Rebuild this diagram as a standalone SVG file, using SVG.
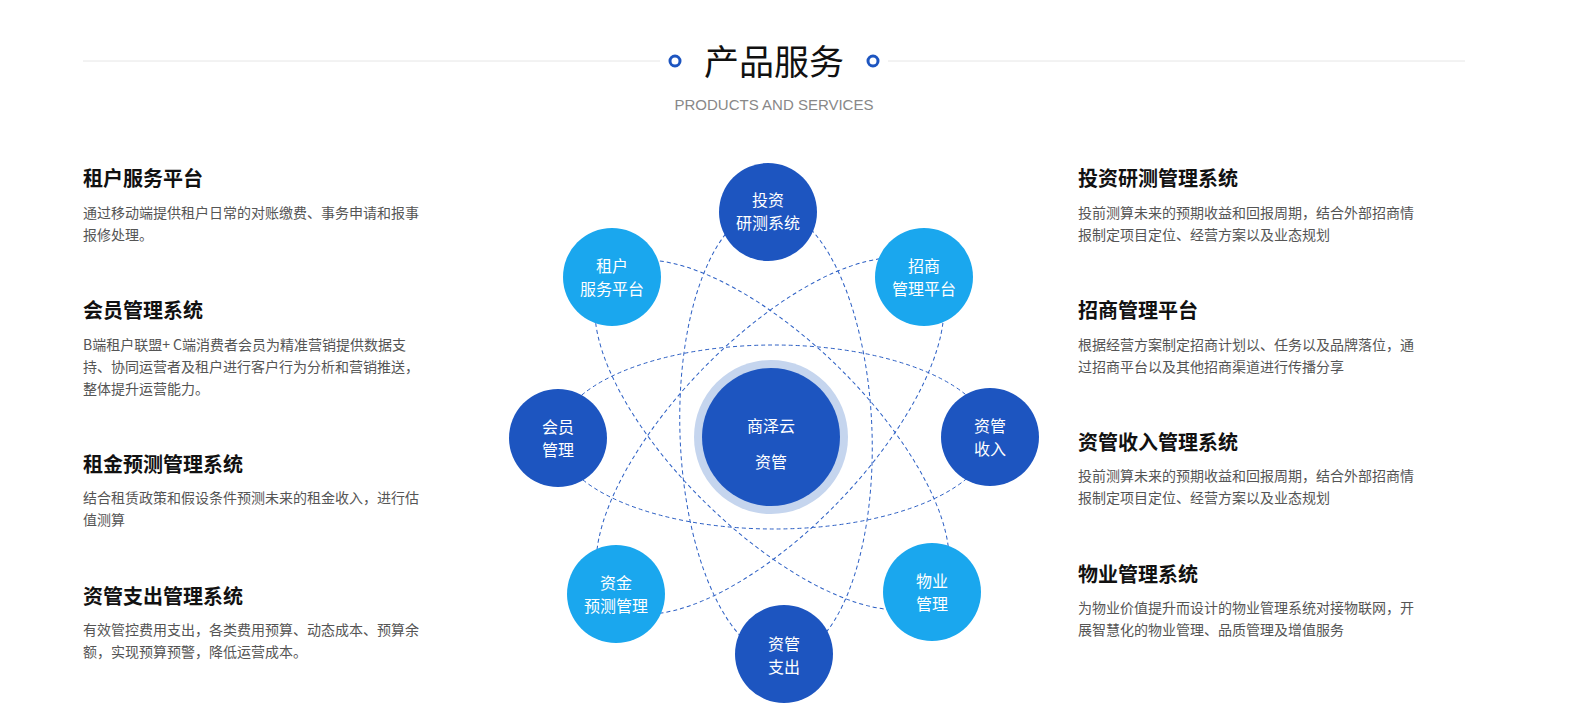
<svg xmlns="http://www.w3.org/2000/svg" width="1580" height="712" viewBox="0 0 1580 712">
<style>
.t{font-family:"Noto Sans CJK SC","Liberation Sans",sans-serif;font-size:20px;font-weight:bold;fill:#111}
.d{font-family:"Noto Sans CJK SC","Liberation Sans",sans-serif;font-size:14px;fill:#555}
.n{font-family:"Noto Sans CJK SC","Liberation Sans",sans-serif;font-size:16px;fill:#fff;text-anchor:middle}
.dk{fill:#1d55c0}.lt{fill:#1aa7ee}
.e{fill:none;stroke:#2c5fc4;stroke-width:1;stroke-dasharray:4 3}
</style>
<rect width="1580" height="712" fill="#fff"/>
<g id="header">
<line x1="83" y1="61" x2="1465" y2="61" stroke="#e6e6e6"/>
<rect x="660" y="40" width="228" height="44" fill="#fff"/>
<circle cx="675" cy="61" r="5" fill="#fff" stroke="#1d55c0" stroke-width="3"/>
<circle cx="873" cy="61" r="5" fill="#fff" stroke="#1d55c0" stroke-width="3"/>
<text x="774" y="75" text-anchor="middle" font-family="Noto Sans CJK SC,sans-serif" font-size="35" fill="#111">产品服务</text>
<text x="774" y="110" text-anchor="middle" font-family="Liberation Sans,sans-serif" font-size="15" fill="#888">PRODUCTS AND SERVICES</text>
</g>
<g id="connectors">
<ellipse class="e" cx="774" cy="437" rx="216" ry="92"/>
<ellipse class="e" cx="776" cy="433" rx="225" ry="96" transform="rotate(88 776 433)"/>
<ellipse class="e" cx="772" cy="435" rx="230" ry="95" transform="rotate(44.5 772 435)"/>
<ellipse class="e" cx="770" cy="436" rx="230" ry="95" transform="rotate(-46 770 436)"/>
</g>
<g id="center">
<circle cx="771" cy="437" r="77" fill="#c5d5ee"/>
<circle cx="771" cy="437" r="69" class="dk"/>
<text x="771" y="432" class="n" font-size="27">商泽云</text>
<text x="771" y="468" class="n" font-size="27">资管</text>
</g>
<g id="n1"><circle cx="768" cy="212" r="49" class="dk"/><text x="768" y="206" class="n">投资</text><text x="768" y="229" class="n">研测系统</text></g>
<g id="n2"><circle cx="612" cy="277" r="49" class="lt"/><text x="612" y="272" class="n">租户</text><text x="612" y="295" class="n">服务平台</text></g>
<g id="n3"><circle cx="924" cy="277" r="49" class="lt"/><text x="924" y="272" class="n">招商</text><text x="924" y="295" class="n">管理平台</text></g>
<g id="n4"><circle cx="558" cy="438" r="49" class="dk"/><text x="558" y="433" class="n">会员</text><text x="558" y="456" class="n">管理</text></g>
<g id="n5"><circle cx="990" cy="437" r="49" class="dk"/><text x="990" y="432" class="n">资管</text><text x="990" y="455" class="n">收入</text></g>
<g id="n6"><circle cx="616" cy="594" r="49" class="lt"/><text x="616" y="589" class="n">资金</text><text x="616" y="612" class="n">预测管理</text></g>
<g id="n7"><circle cx="932" cy="592" r="49" class="lt"/><text x="932" y="587" class="n">物业</text><text x="932" y="610" class="n">管理</text></g>
<g id="n8"><circle cx="784" cy="654" r="49" class="dk"/><text x="784" y="650" class="n">资管</text><text x="784" y="673" class="n">支出</text></g>
<g id="left">
<text x="83" y="186" class="t">租户服务平台</text>
<text x="83" y="218" class="d">通过移动端提供租户日常的对账缴费、事务申请和报事</text>
<text x="83" y="240" class="d">报修处理。</text>
<text x="83" y="318" class="t">会员管理系统</text>
<text x="83" y="350" class="d">B端租户联盟+ C端消费者会员为精准营销提供数据支</text>
<text x="83" y="372" class="d">持、协同运营者及租户进行客户行为分析和营销推送，</text>
<text x="83" y="394" class="d">整体提升运营能力。</text>
<text x="83" y="472" class="t">租金预测管理系统</text>
<text x="83" y="503" class="d">结合租赁政策和假设条件预测未来的租金收入，进行估</text>
<text x="83" y="525" class="d">值测算</text>
<text x="83" y="604" class="t">资管支出管理系统</text>
<text x="83" y="635" class="d">有效管控费用支出，各类费用预算、动态成本、预算余</text>
<text x="83" y="657" class="d">额，实现预算预警，降低运营成本。</text>
</g>
<g id="right">
<text x="1078" y="186" class="t">投资研测管理系统</text>
<text x="1078" y="218" class="d">投前测算未来的预期收益和回报周期，结合外部招商情</text>
<text x="1078" y="240" class="d">报制定项目定位、经营方案以及业态规划</text>
<text x="1078" y="318" class="t">招商管理平台</text>
<text x="1078" y="350" class="d">根据经营方案制定招商计划以、任务以及品牌落位，通</text>
<text x="1078" y="372" class="d">过招商平台以及其他招商渠道进行传播分享</text>
<text x="1078" y="450" class="t">资管收入管理系统</text>
<text x="1078" y="481" class="d">投前测算未来的预期收益和回报周期，结合外部招商情</text>
<text x="1078" y="503" class="d">报制定项目定位、经营方案以及业态规划</text>
<text x="1078" y="582" class="t">物业管理系统</text>
<text x="1078" y="613" class="d">为物业价值提升而设计的物业管理系统对接物联网，开</text>
<text x="1078" y="635" class="d">展智慧化的物业管理、品质管理及增值服务</text>
</g>
</svg>
